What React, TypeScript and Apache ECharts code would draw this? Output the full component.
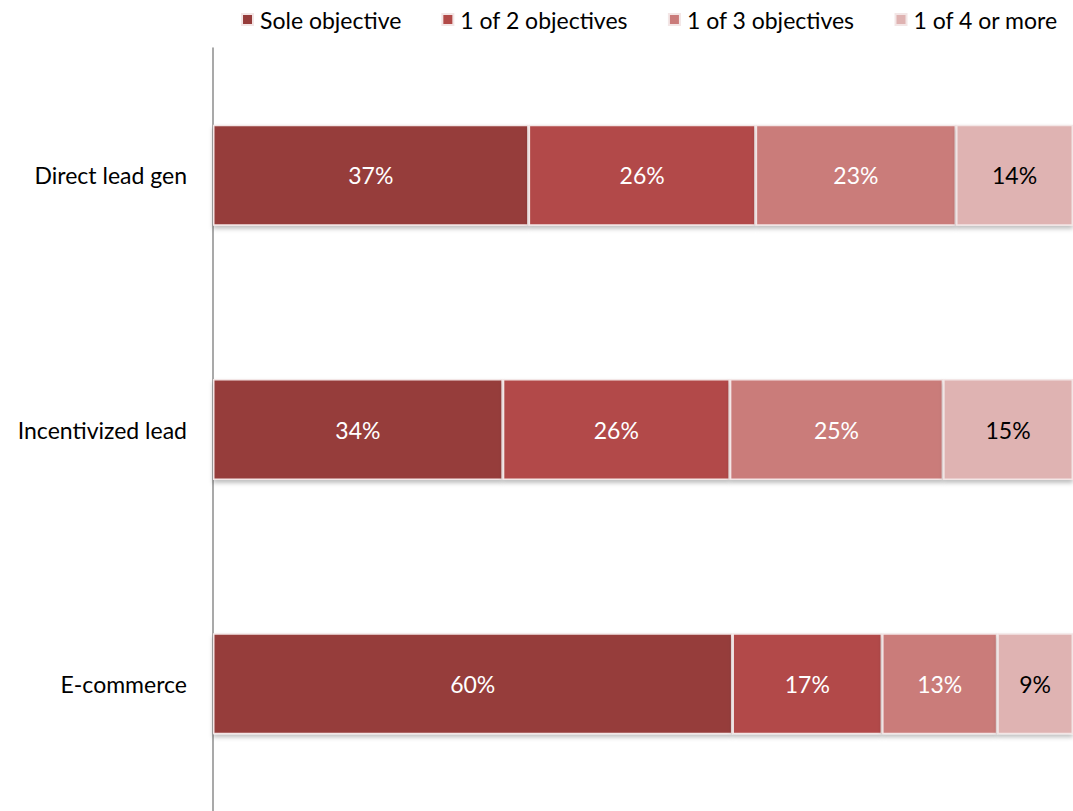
import React, { useEffect, useRef } from "react";
import * as echarts from "echarts";

const categories = ["Direct lead gen", "Incentivized lead", "E-commerce"];
const seriesNames = ["Sole objective", "1 of 2 objectives", "1 of 3 objectives", "1 of 4 or more"];
const soleObjective = [36.7, 33.7, 60.4];
const oneOfTwo = [26.4, 26.4, 17.4];
const oneOfThree = [23.3, 24.8, 13.4];
const oneOfFourPlus = [13.6, 15.1, 8.8];
const colors = ["#963c3b", "#b24a48", "#ca7b7a", "#dfb3b2"];
const labelColors = ["#ffffff", "#ffffff", "#ffffff", "#000000"];

export default function App() {
  const ref = useRef<HTMLDivElement>(null);
  useEffect(() => {
    if (!ref.current) return;
    const chart = echarts.init(ref.current, null, { renderer: "svg" });
    const data = [soleObjective, oneOfTwo, oneOfThree, oneOfFourPlus];
    chart.setOption({
      animation: false,
      textStyle: { fontFamily: "Lato, 'Open Sans', sans-serif" },
      legend: {
        data: seriesNames,
        top: 3,
        right: 10,
        itemWidth: 11,
        itemHeight: 11,
        itemGap: 40,
        icon: "rect",
        textStyle: { fontSize: 23, color: "#000", fontFamily: "Lato, sans-serif", padding: [0, 0, 0, 2] },
      },
      grid: { left: 213, right: 0, top: 48, bottom: 0, containLabel: false },
      xAxis: { type: "value", min: 0, max: 100, show: false },
      yAxis: {
        type: "category",
        data: categories,
        inverse: true,
        axisTick: { show: false },
        axisLine: { show: true, lineStyle: { color: "#8c8c8c", width: 1.5 } },
        axisLabel: { fontSize: 23, color: "#000", margin: 26, fontFamily: "Lato, sans-serif" },
      },
      series: seriesNames.map((name, i) => ({
        name,
        type: "bar",
        stack: "total",
        barWidth: 101,
        data: data[i],
        itemStyle: {
          color: colors[i],
          borderColor: "#f3e6e6",
          borderWidth: 1.5,
          shadowBlur: 4,
          shadowOffsetY: 3,
          shadowColor: "rgba(0,0,0,0.25)",
        },
        label: {
          show: true,
          position: "inside",
          color: labelColors[i],
          fontSize: 23,
          fontFamily: "Lato, sans-serif",
          formatter: (p: any) => Math.round(p.value) + "%",
        },
      })),
    });
    return () => chart.dispose();
  }, []);
  return (
    <div
      ref={ref}
      style={{ position: "fixed", left: 0, top: 0, width: 1073, height: 811, background: "#fff" }}
    />
  );
}
